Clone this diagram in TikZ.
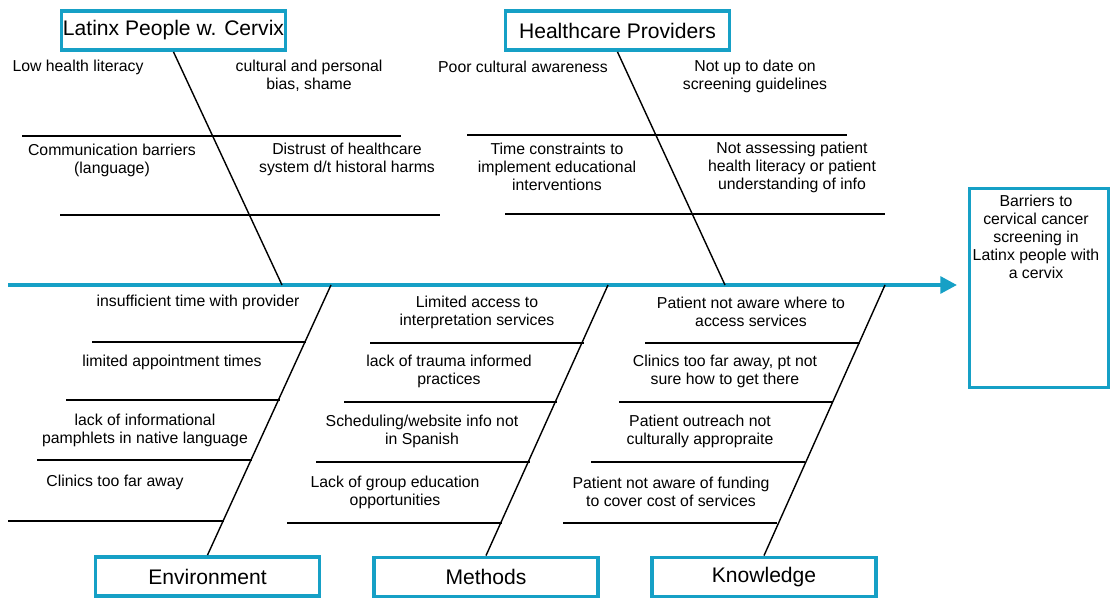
\documentclass[tikz,border=0pt]{standalone}
\usepackage{fontspec}
\setmainfont{Liberation Sans}
\usetikzlibrary{arrows.meta}
\definecolor{fishblue}{RGB}{22,160,198}

\begin{document}
\begin{tikzpicture}[x=0.02cm,y=-0.02cm]
\tikzstyle{cause} = [draw=fishblue, line width=2.2pt, minimum width=4.48cm, minimum height=0.78cm, inner sep=0pt, font=\fontsize{12}{14}\selectfont]
\tikzstyle{item} = [align=center, inner sep=0pt, font=\fontsize{9}{10.2}\selectfont]
\tikzstyle{bone} = [line width=0.8pt]
\tikzstyle{spine} = [draw=fishblue, line width=2.2pt, -{Triangle[length=9.5pt,width=9.5pt]}]
\useasboundingbox (0,0) rectangle (1112,598);

% head of the fish
\node[cause, line width=1.7pt, minimum width=2.78cm, minimum height=3.98cm] (effect) at (1039,288) {};
\node[item] (effecttxt) at (1036,237) {Barriers to\\cervical cancer\\screening in\\Latinx people with\\a cervix};

% spine
\coordinate (tail) at (8,285);
\coordinate (head) at (957,285);
\draw[spine] (tail) -- (head);
\coordinate (s1) at (282,285);
\coordinate (s2) at (725,285);
\coordinate (s3) at (331,285);
\coordinate (s4) at (608,285);
\coordinate (s5) at (885,285);

% categories
\node[cause] (latinx) at (173.5,30.5) {Latinx People w. Cervix};
\node[cause] (providers) at (617.5,30.5) {Healthcare Providers};
\node[cause] (environment) at (207.5,576.5) {Environment};
\node[cause] (methods) at (486,577) {Methods};
\node[cause] (knowledge) at (764,577) {Knowledge};

\draw[bone] (latinx.south) -- (s1);
\draw[bone] (providers.south) -- (s2);
\draw[bone] (environment.north) -- (s3);
\draw[bone] (methods.north) -- (s4);
\draw[bone] (knowledge.north) -- (s5);

% Latinx People w. Cervix
\node[item] (lp1) at (78,67) {Low health literacy};
\node[item] (lp2) at (309,76) {cultural and personal\\bias, shame};
\node[item] (lp3) at (112,160) {Communication barriers\\(language)};
\node[item] (lp4) at (347,159) {Distrust of healthcare\\system d/t historal harms};
\draw[bone] (22,136) -- (401,136);
\draw[bone] (60,215) -- (440,215);

% Healthcare Providers
\node[item] (hp1) at (523,67) {Poor cultural awareness};
\node[item] (hp2) at (755,76) {Not up to date on\\screening guidelines};
\node[item] (hp3) at (557,167) {Time constraints to\\implement educational\\interventions};
\node[item] (hp4) at (792,167) {Not assessing patient\\health literacy or patient\\understanding of info};
\draw[bone] (467,135) -- (847,135);
\draw[bone] (505,214) -- (885,214);

% Environment
\node[item] (en1) at (198,302) {insufficient time with provider};
\node[item] (en2) at (172,362) {limited appointment times};
\node[item] (en3) at (145,430) {lack of informational\\pamphlets in native language};
\node[item] (en4) at (115,482) {Clinics too far away};
\draw[bone] (92,342) -- (306,342);
\draw[bone] (66,400) -- (280,400);
\draw[bone] (37,460) -- (252,460);
\draw[bone] (8,521) -- (224,521);

% Methods
\node[item] (me1) at (477,312) {Limited access to\\interpretation services};
\node[item] (me2) at (449,371) {lack of trauma informed\\practices};
\node[item] (me3) at (422,431) {Scheduling/website info not\\in Spanish};
\node[item] (me4) at (395,492) {Lack of group education\\opportunities};
\draw[bone] (370,343) -- (584,343);
\draw[bone] (344,402) -- (557,402);
\draw[bone] (316,462) -- (530,462);
\draw[bone] (287,523) -- (502,523);

% Knowledge
\node[item] (kn1) at (751,312) {Patient not aware where to\\access services};
\node[item] (kn2) at (725,371) {Clinics too far away, pt not\\sure how to get there};
\node[item] (kn3) at (700,431) {Patient outreach not\\culturally appropraite};
\node[item] (kn4) at (671,492) {Patient not aware of funding\\to cover cost of services};
\draw[bone] (645,343) -- (860,343);
\draw[bone] (619,402) -- (833,402);
\draw[bone] (591,462) -- (805,462);
\draw[bone] (563,523) -- (777,523);
\end{tikzpicture}
\end{document}
